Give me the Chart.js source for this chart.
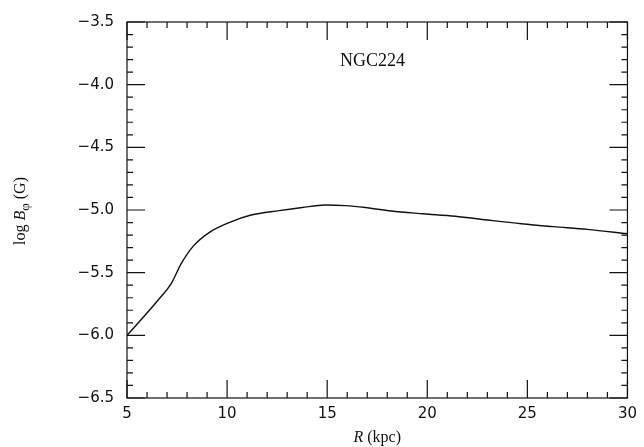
<!DOCTYPE html>
<html>
<head>
<meta charset="utf-8">
<script src="https://cdn.jsdelivr.net/npm/chart.js@4.4.0/dist/chart.umd.min.js"></script>
<style>
  html, body { margin: 0; padding: 0; background: #fff; }
  #wrap { width: 644px; height: 447px; }
</style>
</head>
<body>
<div id="wrap"><canvas id="chart"></canvas></div>
<script>
// radius (kpc) and log B_phi (G)
const radius = [5.0, 5.9, 6.6, 7.2, 7.7, 8.3, 9.1, 10.1, 11.2, 12.6, 13.75, 14.9, 15.9, 16.9, 18.2, 19.8, 21.4, 23.0, 24.7, 26.3, 28.0, 30.0];
const logB   = [-6.00, -5.84, -5.71, -5.59, -5.43, -5.29, -5.18, -5.10, -5.04, -5.005, -4.98, -4.96, -4.965, -4.98, -5.008, -5.03, -5.05, -5.08, -5.11, -5.133, -5.155, -5.19];

const xMin = 5, xMax = 30, xStep = 5, xMinor = 1;
const yMin = -6.5, yMax = -3.5, yStep = 0.5, yMinor = 0.1;
const galaxyLabel = 'NGC224';

const tickFont = { family: 'DejaVu Sans', size: 15 };
const serif = '"Liberation Serif", "DejaVu Serif", serif';

function fmtY(v) {
  return (v < 0 ? '\u2212' : '') + Math.abs(v).toFixed(1);
}

// frame with inward ticks on all four sides, plus titles
const framePlugin = {
  id: 'frame',
  afterDraw(chart) {
    const ctx = chart.ctx;
    const a = chart.chartArea;
    const xs = chart.scales.x, ys = chart.scales.y;
    const major = 18, minor = 6;
    ctx.save();
    ctx.strokeStyle = '#111';
    ctx.lineWidth = 1.2;
    ctx.strokeRect(a.left, a.top, a.right - a.left, a.bottom - a.top);

    ctx.beginPath();
    for (let i = 0; i <= Math.round((xMax - xMin) / xMinor); i++) {
      const v = xMin + i * xMinor;
      const px = xs.getPixelForValue(v);
      const len = (Math.abs(v % xStep) < 1e-6) ? major : minor;
      ctx.moveTo(px, a.bottom); ctx.lineTo(px, a.bottom - len);
      ctx.moveTo(px, a.top); ctx.lineTo(px, a.top + len);
    }
    for (let i = 0; i <= Math.round((yMax - yMin) / yMinor); i++) {
      const v = yMin + i * yMinor;
      const py = ys.getPixelForValue(v);
      const len = (i % Math.round(yStep / yMinor) === 0) ? major : minor;
      ctx.moveTo(a.left, py); ctx.lineTo(a.left + len, py);
      ctx.moveTo(a.right, py); ctx.lineTo(a.right - len, py);
    }
    ctx.stroke();

    ctx.fillStyle = '#111';
    ctx.textBaseline = 'alphabetic';

    // galaxy name
    ctx.font = '18px ' + serif;
    ctx.textAlign = 'left';
    ctx.fillText(galaxyLabel, 340, 66);

    // x title: R (kpc)
    ctx.font = 'italic 16px ' + serif;
    const wR = ctx.measureText('R').width;
    ctx.font = '16px ' + serif;
    const wRest = ctx.measureText(' (kpc)').width;
    let x0 = (a.left + a.right) / 2 - (wR + wRest) / 2;
    ctx.font = 'italic 16px ' + serif;
    ctx.fillText('R', x0, 442);
    ctx.font = '16px ' + serif;
    ctx.fillText(' (kpc)', x0 + wR, 442);

    // y title: log B_phi (G)
    ctx.translate(25, 211);
    ctx.rotate(-Math.PI / 2);
    const parts = [
      { t: 'log ', f: '16px ' + serif, dy: 0 },
      { t: 'B', f: 'italic 16px ' + serif, dy: 0 },
      { t: '\u03c6', f: '13px ' + serif, dy: 4 },
      { t: ' (G)', f: '16px ' + serif, dy: 0 }
    ];
    let total = 0;
    parts.forEach(p => { ctx.font = p.f; p.w = ctx.measureText(p.t).width; total += p.w; });
    let cx = -total / 2;
    parts.forEach(p => { ctx.font = p.f; ctx.fillText(p.t, cx, p.dy); cx += p.w; });
    ctx.restore();
  }
};

const ctx = document.getElementById('chart').getContext('2d');
new Chart(ctx, {
  type: 'line',
  data: {
    datasets: [{
      data: radius.map((r, i) => ({ x: r, y: logB[i] })),
      borderColor: '#111',
      borderWidth: 1.4,
      pointRadius: 0,
      fill: false,
      cubicInterpolationMode: 'monotone'
    }]
  },
  options: {
    responsive: true,
    maintainAspectRatio: false,
    animation: false,
    layout: { padding: { left: 0, top: 16, right: 13, bottom: 0 } },
    plugins: { legend: { display: false }, tooltip: { enabled: false } },
    scales: {
      x: {
        type: 'linear',
        min: xMin, max: xMax,
        grid: { display: false, drawTicks: false },
        border: { display: false },
        ticks: { stepSize: xStep, color: '#111', font: tickFont, padding: 7, maxRotation: 0 },
        afterFit(scale) { scale.height = 49; }
      },
      y: {
        min: yMin, max: yMax,
        grid: { display: false, drawTicks: false },
        border: { display: false },
        ticks: { stepSize: yStep, color: '#111', font: tickFont, padding: 13, callback: fmtY },
        afterFit(scale) { scale.width = 127; }
      }
    }
  },
  plugins: [framePlugin]
});
</script>
</body>
</html>
